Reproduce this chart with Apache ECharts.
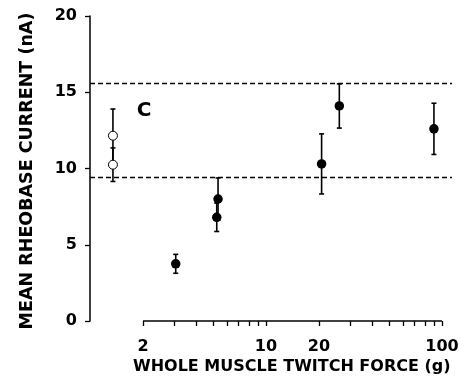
<!DOCTYPE html>
<html>
<head>
<meta charset="utf-8">
<script src="https://cdn.jsdelivr.net/npm/echarts@6/dist/echarts.min.js"></script>
<style>
  html, body { margin: 0; padding: 0; background: #fff; }
  #chart { width: 466px; height: 378px; }
</style>
</head>
<body>
<div id="chart"></div>
<script>
// 数据
var xTickValues = [2, 3, 4, 5, 6, 7, 8, 9, 10, 20, 30, 40, 50, 60, 70, 80, 90, 100];
var xLabelValues = [2, 10, 20, 100];
var yTickInterval = 5;

// 空心点
var openForce = [1.35, 1.35];
var openCurrent = [12.15, 10.25];
var openErr = [1.75, 1.1];

// 实心点
var filledForce = [3.07, 5.25, 5.34, 20.7, 26.1, 90];
var filledCurrent = [3.75, 6.8, 8.0, 10.3, 14.1, 12.6];
var filledErr = [0.62, 0.93, 1.38, 1.97, 1.45, 1.68];

// 虚线参考线
var refLevels = [15.6, 9.4];

var FONT = "DejaVu Sans";

function zip(xs, ys, es) {
  return xs.map(function (x, i) {
    return es ? [x, ys[i], es[i]] : [x, ys[i]];
  });
}

function renderErr(params, api) {
  var x = api.value(0), y = api.value(1), e = api.value(2);
  var top = api.coord([x, y + e]);
  var bot = api.coord([x, y - e]);
  var hw = 2.5;
  var st = { stroke: '#000', lineWidth: 1.6 };
  return {
    type: 'group',
    children: [
      { type: 'line', shape: { x1: top[0], y1: top[1], x2: bot[0], y2: bot[1] }, style: st },
      { type: 'line', shape: { x1: top[0] - hw, y1: top[1], x2: top[0] + hw, y2: top[1] }, style: st },
      { type: 'line', shape: { x1: bot[0] - hw, y1: bot[1], x2: bot[0] + hw, y2: bot[1] }, style: st }
    ]
  };
}

var chart = echarts.init(document.getElementById('chart'));

var option = {
  animation: false,
  backgroundColor: '#fff',
  grid: { left: 90, right: 14, top: 16, bottom: 57 },
  xAxis: {
    type: 'log',
    logBase: 10,
    min: 1,
    max: 114,
    axisLine: { show: false },
    axisTick: {
      show: true,
      customValues: xTickValues,
      length: 5,
      lineStyle: { color: '#000', width: 1.3 }
    },
    axisLabel: {
      customValues: xLabelValues,
      margin: 18,
      color: '#000',
      fontFamily: FONT,
      fontWeight: 'bold',
      fontSize: 16,
      formatter: function (v) { return String(Math.round(v)); }
    },
    splitLine: { show: false },
    minorTick: { show: false }
  },
  yAxis: {
    type: 'value',
    min: 0,
    max: 20,
    interval: yTickInterval,
    axisLine: { show: true, lineStyle: { color: '#000', width: 1.5 } },
    axisTick: { show: true, length: 5, lineStyle: { color: '#000', width: 1.3 } },
    axisLabel: {
      margin: 13,
      color: '#000',
      fontFamily: FONT,
      fontWeight: 'bold',
      fontSize: 16
    },
    splitLine: { show: false }
  },
  series: [
    {
      // x 轴线只画 2 到 100
      type: 'line',
      data: [[xTickValues[0], 0], [xTickValues[xTickValues.length - 1], 0]],
      showSymbol: false,
      silent: true,
      clip: false,
      lineStyle: { color: '#000', width: 1.5 },
      markLine: {
        silent: true,
        symbol: 'none',
        label: { show: false },
        lineStyle: { color: '#000', width: 1.4, type: [5, 3] },
        data: refLevels.map(function (v) { return { yAxis: v }; })
      }
    },
    {
      type: 'custom',
      renderItem: renderErr,
      data: zip(openForce, openCurrent, openErr),
      encode: { x: 0, y: 1 },
      z: 2
    },
    {
      type: 'custom',
      renderItem: renderErr,
      data: zip(filledForce, filledCurrent, filledErr),
      encode: { x: 0, y: 1 },
      z: 2
    },
    {
      type: 'scatter',
      data: zip(openForce, openCurrent),
      symbol: 'circle',
      symbolSize: 9,
      itemStyle: { color: '#fff', borderColor: '#000', borderWidth: 1, opacity: 1 },
      z: 3
    },
    {
      type: 'scatter',
      data: zip(filledForce, filledCurrent),
      symbol: 'circle',
      symbolSize: 9.5,
      itemStyle: { color: '#000', opacity: 1 },
      z: 3
    }
  ],
  graphic: [
    {
      type: 'text',
      left: 133, top: 359,
      style: { text: 'WHOLE MUSCLE TWITCH FORCE (g)', fill: '#000', font: 'bold 16px "DejaVu Sans"' }
    },
    {
      type: 'text',
      x: 27, y: 171,
      rotation: Math.PI / 2,
      style: {
        text: 'MEAN RHEOBASE CURRENT (nA)', fill: '#000',
        font: 'bold 17.5px "DejaVu Sans"', align: 'center', verticalAlign: 'middle'
      }
    },
    {
      type: 'text',
      x: 144, y: 111,
      style: { text: 'C', fill: '#000', font: 'bold 20px "DejaVu Sans"', align: 'center', verticalAlign: 'middle' }
    }
  ]
};

chart.setOption(option);
</script>
</body>
</html>
